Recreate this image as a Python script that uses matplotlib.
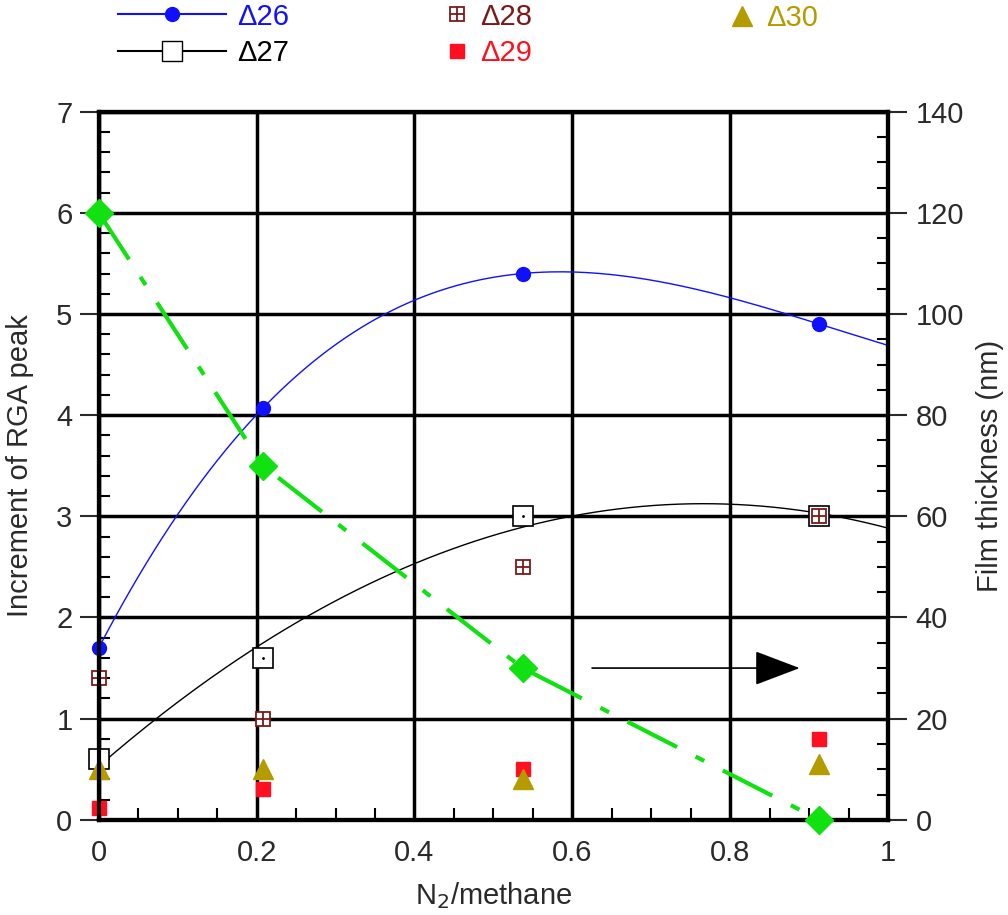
import numpy as np
import matplotlib.pyplot as plt
from matplotlib.lines import Line2D
from matplotlib.legend_handler import HandlerTuple
from matplotlib.ticker import MultipleLocator

plt.rcParams['font.family'] = ['Liberation Sans', 'DejaVu Sans']
plt.rcParams['lines.scale_dashes'] = False

# N2/methane ratio of the four runs
ratio = [0.0, 0.208, 0.537, 0.913]

# RGA peak increments
d26 = [1.7, 4.07, 5.4, 4.9]
d27 = [0.6, 1.6, 3.0, 3.0]
d28 = [1.4, 1.0, 2.5, 3.0]
d29 = [0.12, 0.3, 0.5, 0.8]
d30 = [0.5, 0.5, 0.4, 0.55]

# film thickness (nm), right axis
thickness = [120, 70, 30, 0]

# arrow pointing to the right axis
arrow_x = [0.625, 0.888]
arrow_y = 30

blue = '#1010ff'
dark_red = '#7a1a1a'
red = '#ff1020'
olive = '#b39b00'
green = '#11e011'
txt = '#2a2a2a'

fig = plt.figure(figsize=(10.08, 9.15), dpi=100)
ax = fig.add_axes([0.098, 0.104, 0.783, 0.774])
ax2 = ax.twinx()

# smooth fits drawn through the data
xs = np.linspace(0, 1, 200)
fit26 = np.polyval(np.polyfit(ratio, d26, 3), xs)
fit27 = np.polyval(np.polyfit(ratio, d27, 2), xs)

ax.plot(xs, fit26, color=blue, lw=1, zorder=4)
ax.plot(xs, fit27, color='black', lw=1, zorder=4)

ax.plot(ratio, d26, 'o', color=blue, ms=10, zorder=6, clip_on=False)
ax.plot(ratio, d27, 's', mfc='white', mec='black', mew=1.2, ms=14.5, zorder=5, clip_on=False)
ax.plot(ratio, d27, '.', color='black', ms=2, zorder=6, clip_on=False)
ax.plot(ratio, d28, 's', mfc='white', mec=dark_red, mew=1.3, ms=10, zorder=7, clip_on=False)
ax.plot(ratio, d28, '+', color=dark_red, mew=1.3, ms=10, zorder=7, clip_on=False)
ax.plot(ratio, d29, 's', color=red, ms=9.5, zorder=5, clip_on=False)
ax.plot(ratio, d30, '^', color=olive, ms=15, zorder=6, clip_on=False)

ax2.plot(ratio, thickness, color=green, lw=3, dashes=(40, 15, 7, 15), zorder=4)
ax2.plot(ratio, thickness, 'D', color=green, ms=14, zorder=6, clip_on=False)
ax2.annotate('', xy=(arrow_x[1], arrow_y), xytext=(arrow_x[0], arrow_y),
             arrowprops=dict(arrowstyle='-|>,head_length=1.45,head_width=0.55',
                             mutation_scale=20, color='black', lw=1.2,
                             shrinkA=0, shrinkB=0))

ax.set_xlim(0, 1)
ax.set_ylim(0, 7)
ax2.set_ylim(0, 140)

ax.xaxis.set_major_locator(MultipleLocator(0.2))
ax.xaxis.set_minor_locator(MultipleLocator(0.05))
ax.yaxis.set_major_locator(MultipleLocator(1))
ax.yaxis.set_minor_locator(MultipleLocator(0.2))
ax2.yaxis.set_major_locator(MultipleLocator(20))
ax2.yaxis.set_minor_locator(MultipleLocator(5))

ax.set_xticks([0, 0.2, 0.4, 0.6, 0.8, 1.0])
ax.set_xticklabels(['0', '0.2', '0.4', '0.6', '0.8', '1'])

ax.grid(True, which='major', color='black', lw=2.5, zorder=1)
ax.set_axisbelow(True)

ax.tick_params(axis='x', which='major', length=0, pad=14, labelsize=21, colors=txt)
ax.tick_params(axis='x', which='minor', direction='in', length=9, width=1.5)
ax.tick_params(axis='y', which='major', direction='out', length=14, width=1.5,
               labelsize=21, colors=txt, pad=5)
ax.tick_params(axis='y', which='minor', direction='in', length=8, width=1.5)
ax2.tick_params(axis='y', which='major', direction='out', length=14, width=1.5,
                labelsize=21, colors=txt, pad=6)
ax2.tick_params(axis='y', which='minor', direction='in', length=8, width=1.5)

for a in (ax, ax2):
    for s in a.spines.values():
        s.set_linewidth(3)

ax.set_xlabel('N$_2$/methane', fontsize=21, color=txt)
ax.set_ylabel('Increment of RGA peak', fontsize=21, color=txt)
ax2.set_ylabel('Film thickness (nm)', fontsize=21, color=txt)
ax.xaxis.set_label_coords(0.5, -0.085)
ax.yaxis.set_label_coords(-0.082, 0.5)
ax2.yaxis.set_label_coords(1.112, 0.5)

# legend above the plot, three blocks
leg_kw = dict(frameon=False, fontsize=21, handletextpad=0.4, labelspacing=0.28,
              borderaxespad=0, borderpad=0)
h1 = [Line2D([], [], color=blue, lw=1.5, marker='o', ms=10),
      Line2D([], [], color='black', lw=1.5, marker='s', mfc='white', mec='black', ms=14.5)]
fig.legend(h1, ['\u039426', '\u039427'], loc='center left',
           bbox_to_anchor=(0.117, 0.962), handlelength=3.7,
           labelcolor=[blue, 'black'], **leg_kw)
h2 = [(Line2D([], [], ls='none', marker='s', mfc='white', mec=dark_red, mew=1.3, ms=10),
       Line2D([], [], ls='none', marker='+', color=dark_red, mew=1.3, ms=10)),
      Line2D([], [], ls='none', marker='s', color=red, ms=9.5)]
fig.legend(h2, ['\u039428', '\u039429'], loc='center left',
           bbox_to_anchor=(0.442, 0.962), handlelength=0.8,
           handler_map={tuple: HandlerTuple(ndivide=1)},
           labelcolor=[dark_red, red], **leg_kw)
h3 = [Line2D([], [], ls='none', marker='^', color=olive, ms=15)]
fig.legend(h3, ['\u039430'], loc='center left',
           bbox_to_anchor=(0.725, 0.980), handlelength=0.8,
           labelcolor=[olive], **leg_kw)

fig.savefig('out.png', dpi=100)
